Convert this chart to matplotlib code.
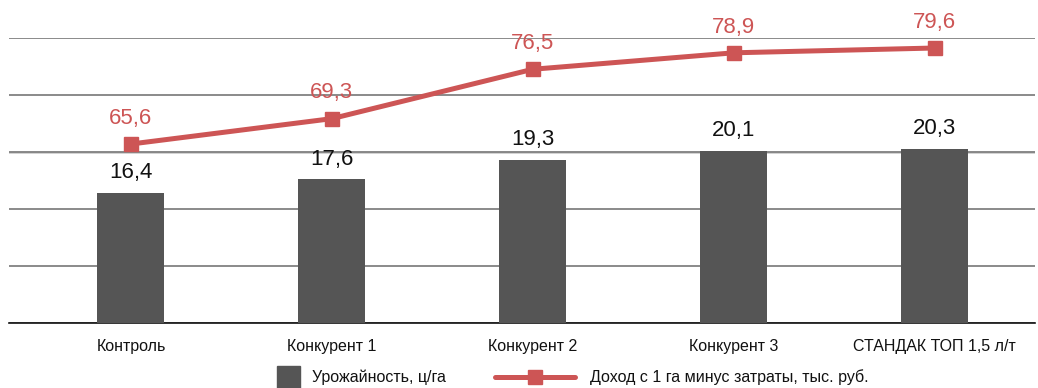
import matplotlib.pyplot as plt
from matplotlib.lines import Line2D
from matplotlib.patches import Rectangle

plt.rcParams['font.family'] = ['Liberation Sans', 'DejaVu Sans']

categories = ['Контроль', 'Конкурент 1', 'Конкурент 2', 'Конкурент 3', 'СТАНДАК ТОП 1,5 л/т']
yield_cwt = [16.4, 17.6, 19.3, 20.1, 20.3]
income = [65.6, 69.3, 76.5, 78.9, 79.6]

bar_color = '#555555'
line_color = '#cd5555'

W, H = 1038, 388
fig = plt.figure(figsize=(W / 100, H / 100), dpi=100)
ax = fig.add_axes([9 / W, 65 / H, 1026 / W, 285 / H])
x = list(range(len(categories)))

# bars (yield)
ax.bar(x, yield_cwt, width=0.333, color=bar_color, zorder=3)
ax.set_xlim(-0.607, 4.5)
ax.set_ylim(5, 30)
ax.set_yticks([5, 10, 15, 20, 25, 30])
ax.yaxis.grid(True, color='#8a8a8a', linewidth=1.4, zorder=0)
ax.axhline(20, color='#222222', linewidth=1.0, zorder=1)
ax.set_xticks(x)
ax.set_xticklabels(categories)
for s in ['top', 'left', 'right']:
    ax.spines[s].set_visible(False)
ax.spines['bottom'].set_color('#111111')
ax.spines['bottom'].set_linewidth(1.2)
for xi, v in zip(x, yield_cwt):
    ax.annotate(f'{v:.1f}'.replace('.', ','), (xi, v), xytext=(0, 7),
                textcoords='offset points', ha='center', va='bottom',
                fontsize=16, color='#111111')

# line (income) on a second scale
ax2 = ax.twinx()
ax2.plot(x, income, color=line_color, linewidth=3.6, marker='s',
         markersize=10, zorder=4)
ax2.set_ylim(39.5, 81.06)
ax2.axis('off')
for xi, v in zip(x, income):
    ax2.annotate(f'{v:.1f}'.replace('.', ','), (xi, v), xytext=(0, 11),
                 textcoords='offset points', ha='center', va='bottom',
                 fontsize=16, color=line_color, annotation_clip=False)

ax.tick_params(axis='y', left=False, right=False, labelleft=False)
ax.tick_params(axis='x', bottom=False, labelsize=11.5, pad=8, colors='#111111')

# legend drawn by hand in figure pixels
ly = 1 - 377 / H
fig.patches.append(Rectangle((277 / W, ly - 11.5 / H), 23 / W, 23 / H,
                             transform=fig.transFigure, color=bar_color))
fig.text(312 / W, ly, 'Урожайность, ц/га', fontsize=11.5, va='center', color='#111111')
fig.lines.append(Line2D([495 / W, 575 / W], [ly, ly], transform=fig.transFigure,
                        color=line_color, linewidth=3.6, solid_capstyle='round'))
fig.lines.append(Line2D([535 / W], [ly], transform=fig.transFigure, color=line_color,
                        marker='s', markersize=10))
fig.text(590 / W, ly, 'Доход с 1 га минус затраты, тыс. руб.', fontsize=11.5,
         va='center', color='#111111')

fig.savefig('out.png', dpi=100)
